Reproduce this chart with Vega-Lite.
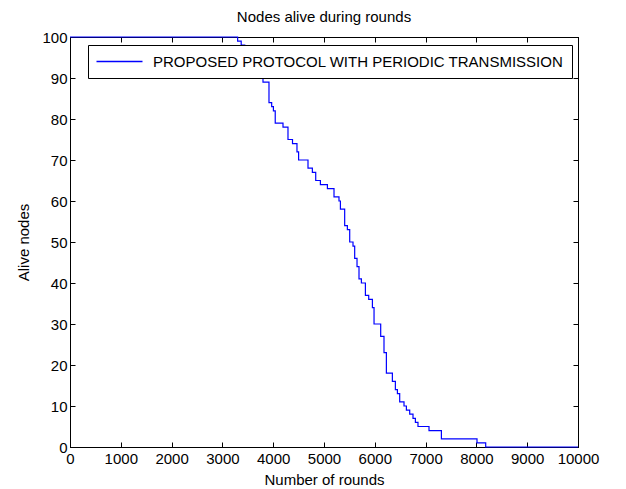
{
  "$schema": "https://vega.github.io/schema/vega-lite/v6.json",
  "width": 508,
  "height": 410,
  "autosize": "none",
  "padding": {"left": 70, "top": 37, "right": 48, "bottom": 42},
  "background": "white",
  "title": {"text": "Nodes alive during rounds", "fontSize": 15, "font": "Liberation Sans", "fontWeight": "normal", "color": "black", "offset": 5},
  "config": {
    "view": {"stroke": "black", "strokeWidth": 1},
    "font": "Liberation Sans",
    "axis": {"grid": false, "domainColor": "black", "tickColor": "black", "tickSize": -5, "labelColor": "black", "labelFontSize": 15, "labelFont": "Liberation Sans", "titleFont": "Liberation Sans", "titleFontSize": 15, "titleFontWeight": "normal", "titleColor": "black", "format": "d"}
  },
  "data": {"values": [
    {"rounds": 0, "alive": 100},
    {"rounds": 3300, "alive": 99},
    {"rounds": 3370, "alive": 98},
    {"rounds": 3440, "alive": 96},
    {"rounds": 3550, "alive": 94},
    {"rounds": 3650, "alive": 92},
    {"rounds": 3720, "alive": 91},
    {"rounds": 3799, "alive": 89},
    {"rounds": 3917, "alive": 84},
    {"rounds": 3970, "alive": 83},
    {"rounds": 4004, "alive": 82},
    {"rounds": 4040, "alive": 79},
    {"rounds": 4193, "alive": 78},
    {"rounds": 4291, "alive": 75},
    {"rounds": 4380, "alive": 74},
    {"rounds": 4468, "alive": 72},
    {"rounds": 4500, "alive": 70},
    {"rounds": 4685, "alive": 68},
    {"rounds": 4771, "alive": 67},
    {"rounds": 4837, "alive": 65},
    {"rounds": 4929, "alive": 64},
    {"rounds": 5067, "alive": 63},
    {"rounds": 5197, "alive": 61},
    {"rounds": 5295, "alive": 60},
    {"rounds": 5323, "alive": 58},
    {"rounds": 5407, "alive": 54},
    {"rounds": 5460, "alive": 53},
    {"rounds": 5506, "alive": 50},
    {"rounds": 5571, "alive": 49},
    {"rounds": 5604, "alive": 46},
    {"rounds": 5650, "alive": 44},
    {"rounds": 5689, "alive": 41},
    {"rounds": 5736, "alive": 40},
    {"rounds": 5815, "alive": 37},
    {"rounds": 5880, "alive": 36},
    {"rounds": 5953, "alive": 34},
    {"rounds": 5985, "alive": 30},
    {"rounds": 6116, "alive": 27},
    {"rounds": 6181, "alive": 23},
    {"rounds": 6228, "alive": 18},
    {"rounds": 6346, "alive": 16},
    {"rounds": 6405, "alive": 14},
    {"rounds": 6445, "alive": 13},
    {"rounds": 6490, "alive": 11},
    {"rounds": 6575, "alive": 10},
    {"rounds": 6622, "alive": 9},
    {"rounds": 6687, "alive": 8},
    {"rounds": 6752, "alive": 7},
    {"rounds": 6799, "alive": 6},
    {"rounds": 6850, "alive": 5},
    {"rounds": 7067, "alive": 4},
    {"rounds": 7311, "alive": 2},
    {"rounds": 8012, "alive": 1},
    {"rounds": 8183, "alive": 0},
    {"rounds": 10000, "alive": 0}
  ]},
  "layer": [
    {
      "mark": {"type": "line", "interpolate": "step-after", "strokeWidth": 1.2},
      "encoding": {
        "x": {"field": "rounds", "type": "quantitative", "scale": {"domain": [0, 10000], "nice": false},
              "axis": {"values": [0,1000,2000,3000,4000,5000,6000,7000,8000,9000,10000], "title": "Number of rounds", "labelPadding": 9, "titlePadding": 6, "labelFlush": false, "labelOverlap": false}},
        "y": {"field": "alive", "type": "quantitative", "scale": {"domain": [0, 100], "nice": false},
              "axis": {"values": [0,10,20,30,40,50,60,70,80,90,100], "title": "Alive nodes", "labelPadding": 8, "titlePadding": 10, "labelFlush": false, "labelOverlap": false}},
        "color": {"datum": "PROPOSED PROTOCOL WITH PERIODIC TRANSMISSION", "scale": {"range": ["#0000ff"]},
                  "legend": {"orient": "none", "legendX": 18, "legendY": 8, "title": null, "symbolType": "M-3,0L3,0", "symbolSize": 235, "symbolOffset": 15, "symbolStrokeWidth": 1.6, "symbolStrokeColor": "#0000ff", "labelFontSize": 15, "labelColor": "black", "labelFont": "Liberation Sans", "labelLimit": 0, "fillColor": "white", "strokeColor": "black", "padding": 8, "labelOffset": 25,
                             "encode": {"symbols": {"update": {"stroke": {"value": "#0000ff"}, "strokeWidth": {"value": 1.6}, "opacity": {"value": 1}, "strokeOpacity": {"value": 1}}}}}}
      }
    },
    {
      "mark": {"type": "line", "interpolate": "step-after", "strokeOpacity": 0},
      "encoding": {
        "x": {"field": "rounds", "type": "quantitative", "scale": {"domain": [0, 10000], "nice": false},
              "axis": {"orient": "top", "values": [0,1000,2000,3000,4000,5000,6000,7000,8000,9000,10000], "labels": false, "title": null}},
        "y": {"field": "alive", "type": "quantitative", "scale": {"domain": [0, 100], "nice": false},
              "axis": {"orient": "right", "values": [0,10,20,30,40,50,60,70,80,90,100], "labels": false, "title": null}}
      }
    }
  ],
  "resolve": {"axis": {"x": "independent", "y": "independent"}}
}
